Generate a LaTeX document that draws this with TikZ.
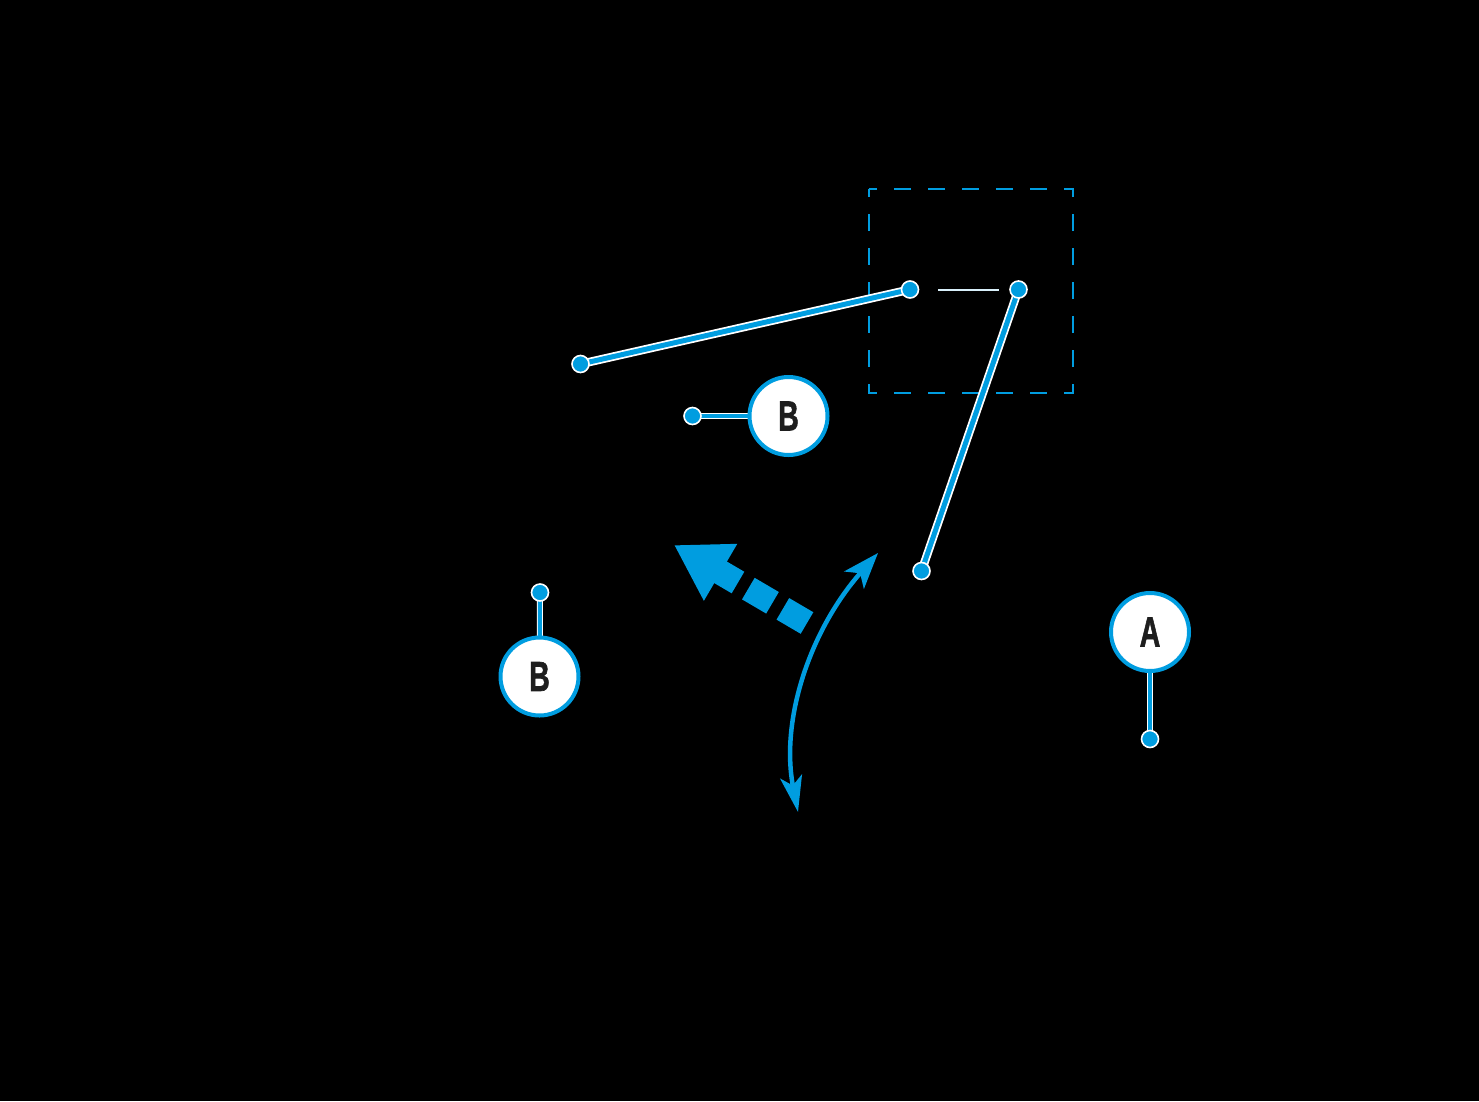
\documentclass[tikz,border=0pt]{standalone}
\usepackage{fontspec}
\setmainfont{Liberation Sans}
\newfontfamily\badgefont[FakeBold=1.6]{Liberation Sans}
\usetikzlibrary{arrows.meta}
\definecolor{bl}{RGB}{0,157,224}
\definecolor{ink}{RGB}{30,30,30}
\tikzset{
  dotnode/.style={circle, fill=bl, draw=white, line width=1.6pt, inner sep=0pt, minimum size=17pt},
  badge/.style={circle, draw=bl, line width=4pt, fill=white, minimum size=78pt, inner sep=0pt,
    text=ink, font=\badgefont\bfseries\fontsize{42}{42}\selectfont},
  rodline/.style={bl, line width=5pt, preaction={draw=white, line width=8.5pt}},
  stemline/.style={bl, line width=4pt, preaction={draw=white, line width=6pt}},
  framebox/.style={bl, line width=2pt, dash pattern=on 17pt off 17pt, dash phase=8.5pt},
}
\begin{document}
\begin{tikzpicture}[x=1pt,y=-1pt]
\fill[black] (0,0) rectangle (1479,1101);
\useasboundingbox (0,0) rectangle (1479,1101);

% dashed frame
\draw[framebox] (868.5,188.5) rectangle (1072.5,392.5);
\coordinate (h1) at (938,290);
\coordinate (h2) at (999,290);
\draw[white!85!bl, line width=1.3pt] (h1) -- (h2);

% rods
\coordinate (r1a) at (580.5,364);
\coordinate (r1b) at (910,289.5);
\coordinate (r2a) at (1018.5,289.5);
\coordinate (r2b) at (921.5,571);
\draw[rodline] (r1a) -- (r1b);
\draw[rodline] (r2a) -- (r2b);
\foreach \p in {r1a,r1b,r2a,r2b} \node[dotnode] (d\p) at (\p) {};

% badges with stems
\coordinate (s1) at (692.5,416);
\coordinate (s2) at (540,592.5);
\coordinate (s3) at (1150,739);
\coordinate (c1) at (788.5,416);
\coordinate (c2) at (539.5,676.5);
\coordinate (c3) at (1150,632);
\draw[stemline] (s1) -- (c1);
\draw[stemline] (s2) -- (c2);
\draw[stemline] (s3) -- (c3);
\node[dotnode] (ds1) at (s1) {};
\node[dotnode] (ds2) at (s2) {};
\node[dotnode] (ds3) at (s3) {};
\node[badge] (b1) at (c1) {\scalebox{0.68}[1]{B}};
\node[badge] (b2) at (c2) {\scalebox{0.68}[1]{B}};
\node[badge] (a1) at (c3) {\scalebox{0.68}[1]{A}};

% dashed thick arrow
\coordinate (ta) at (807,623);
\coordinate (tb) at (674,545);
\draw[bl, line width=25pt, dash pattern=on 28pt off 12pt,
  -{Triangle[length=54pt,width=62pt]}] (ta) -- (tb);

% curved double arrow
\coordinate (ca) at (798,812);
\coordinate (cb) at (878,553);
\draw[bl, line width=4.5pt,
  {Stealth[length=36pt,width=22pt,inset=9pt]}-{Stealth[length=36pt,width=26pt,inset=9pt]}]
  (ca) .. controls (780,720) and (810,630) .. (cb);
\end{tikzpicture}
\end{document}
